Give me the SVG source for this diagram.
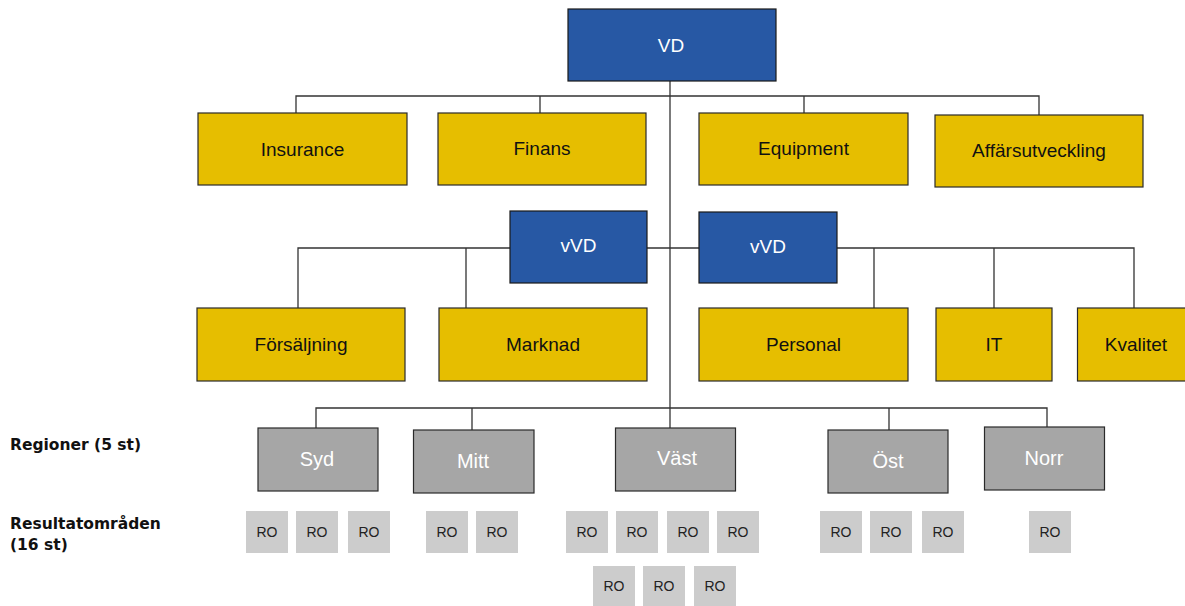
<svg xmlns="http://www.w3.org/2000/svg" width="1185" height="606" viewBox="0 0 1185 606">
<style>
.blue{fill:#2758A4;stroke:#1a1a1a;stroke-width:1.2}
.yel{fill:#E6BE00;stroke:#2a2a2a;stroke-width:1.2}
.reg{fill:#A6A6A6;stroke:#2a2a2a;stroke-width:1.2}
.ro{fill:#CCCCCC}
.t{font-family:"Liberation Sans",Arial,sans-serif;font-size:19px;text-anchor:middle;fill:#111}
.tw{font-family:"Liberation Sans",Arial,sans-serif;font-size:19px;text-anchor:middle;fill:#fff}
.tr{font-family:"Liberation Sans",Arial,sans-serif;font-size:20px;text-anchor:middle;fill:#fff}
.tro{font-family:"Liberation Sans",Arial,sans-serif;font-size:14px;text-anchor:middle;fill:#222}
.lbl{font-family:"DejaVu Sans",Verdana,sans-serif;font-size:15.5px;font-weight:bold;fill:#111}
.c{fill:none;stroke:#333;stroke-width:1.3}
</style>
<g id="connectors">
<path class="c" d="M670 81V428"/>
<path class="c" d="M296 113V96H1039V115"/>
<path class="c" d="M540 96V113M804 96V113"/>
<path class="c" d="M298 308V248H510M466 248V308"/>
<path class="c" d="M647 248H699"/>
<path class="c" d="M837 248H1134V308M874 248V308M994 248V308"/>
<path class="c" d="M316 428V408H1047V427M472 408V430M889 408V430"/>
</g>
<g id="vd"><rect class="blue" x="568" y="9" width="208" height="72"/><text class="tw" x="671" y="52">VD</text></g>
<g id="insurance"><rect class="yel" x="198" y="113" width="209" height="72"/><text class="t" x="302.5" y="156">Insurance</text></g>
<g id="finans"><rect class="yel" x="438" y="113" width="208" height="72"/><text class="t" x="542" y="155">Finans</text></g>
<g id="equipment"><rect class="yel" x="699" y="113" width="209" height="72"/><text class="t" x="803.5" y="155">Equipment</text></g>
<g id="affarsutveckling"><rect class="yel" x="935" y="115" width="208" height="72"/><text class="t" x="1039" y="157">Affärsutveckling</text></g>
<g id="vvd1"><rect class="blue" x="510" y="211" width="137" height="72"/><text class="tw" x="578.5" y="252">vVD</text></g>
<g id="vvd2"><rect class="blue" x="699" y="212" width="138" height="71"/><text class="tw" x="768" y="253">vVD</text></g>
<g id="forsaljning"><rect class="yel" x="197" y="308" width="208" height="73"/><text class="t" x="301" y="351">Försäljning</text></g>
<g id="marknad"><rect class="yel" x="439" y="308" width="208" height="73"/><text class="t" x="543" y="351">Marknad</text></g>
<g id="personal"><rect class="yel" x="699" y="308" width="209" height="73"/><text class="t" x="803.5" y="351">Personal</text></g>
<g id="it"><rect class="yel" x="936" y="308" width="116" height="73"/><text class="t" x="994" y="351">IT</text></g>
<g id="kvalitet"><rect class="yel" x="1077.5" y="308" width="117" height="73"/><text class="t" x="1136" y="351">Kvalitet</text></g>
<g id="syd"><rect class="reg" x="258" y="428" width="120" height="63"/><text class="tr" x="317" y="466">Syd</text></g>
<g id="mitt"><rect class="reg" x="413.5" y="430" width="120.5" height="63"/><text class="tr" x="473" y="468">Mitt</text></g>
<g id="vast"><rect class="reg" x="615.5" y="428" width="120" height="63"/><text class="tr" x="677" y="465">Väst</text></g>
<g id="ost"><rect class="reg" x="828" y="430" width="120" height="63"/><text class="tr" x="888" y="468">Öst</text></g>
<g id="norr"><rect class="reg" x="984.5" y="427" width="120" height="63"/><text class="tr" x="1044" y="465">Norr</text></g>
<g id="labels">
<text class="lbl" x="10" y="450">Regioner (5 st)</text>
<text class="lbl" x="10" y="529">Resultatområden</text>
<text class="lbl" x="10" y="550">(16 st)</text>
</g>
<g id="ro-row1">
<g id="ro1"><rect class="ro" x="246" y="511" width="42" height="42"/><text class="tro" x="267" y="537">RO</text></g>
<g id="ro2"><rect class="ro" x="296" y="511" width="42" height="42"/><text class="tro" x="317" y="537">RO</text></g>
<g id="ro3"><rect class="ro" x="348" y="511" width="42" height="42"/><text class="tro" x="369" y="537">RO</text></g>
<g id="ro4"><rect class="ro" x="426" y="511" width="42" height="42"/><text class="tro" x="447" y="537">RO</text></g>
<g id="ro5"><rect class="ro" x="476" y="511" width="42" height="42"/><text class="tro" x="497" y="537">RO</text></g>
<g id="ro6"><rect class="ro" x="566" y="511" width="42" height="42"/><text class="tro" x="587" y="537">RO</text></g>
<g id="ro7"><rect class="ro" x="616" y="511" width="42" height="42"/><text class="tro" x="637" y="537">RO</text></g>
<g id="ro8"><rect class="ro" x="667" y="511" width="42" height="42"/><text class="tro" x="688" y="537">RO</text></g>
<g id="ro9"><rect class="ro" x="717" y="511" width="42" height="42"/><text class="tro" x="738" y="537">RO</text></g>
<g id="ro10"><rect class="ro" x="820" y="511" width="42" height="42"/><text class="tro" x="841" y="537">RO</text></g>
<g id="ro11"><rect class="ro" x="870" y="511" width="42" height="42"/><text class="tro" x="891" y="537">RO</text></g>
<g id="ro12"><rect class="ro" x="922" y="511" width="42" height="42"/><text class="tro" x="943" y="537">RO</text></g>
<g id="ro13"><rect class="ro" x="1029" y="511" width="42" height="42"/><text class="tro" x="1050" y="537">RO</text></g>
</g>
<g id="ro-row2">
<g id="ro14"><rect class="ro" x="593" y="566" width="42" height="40"/><text class="tro" x="614" y="591">RO</text></g>
<g id="ro15"><rect class="ro" x="643" y="566" width="42" height="40"/><text class="tro" x="664" y="591">RO</text></g>
<g id="ro16"><rect class="ro" x="694" y="566" width="42" height="40"/><text class="tro" x="715" y="591">RO</text></g>
</g>
</svg>
